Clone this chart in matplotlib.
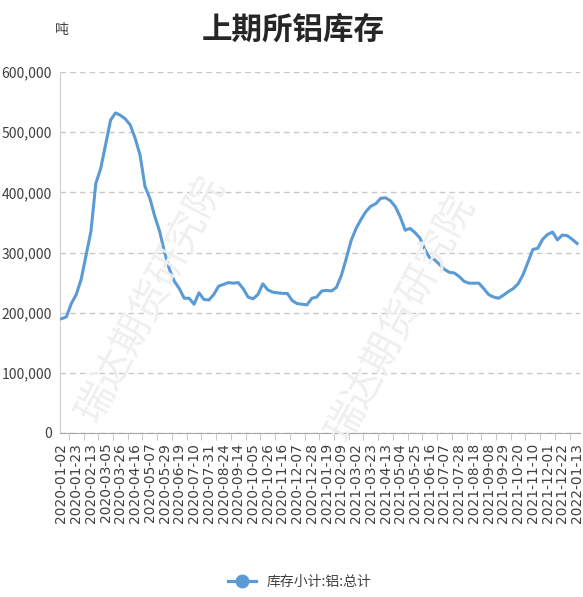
import numpy as np
import matplotlib.pyplot as plt
from matplotlib.lines import Line2D
from matplotlib.ticker import FuncFormatter, FixedLocator

plt.rcParams['font.family'] = ['Noto Sans CJK SC', 'DejaVu Sans']

# weekly SHFE aluminium stock (tonnes)
stock = [190, 193, 215, 230, 255, 295, 335, 415, 440, 480,
         520, 532, 528, 522, 512, 490, 462, 410, 390, 360,
         335, 300, 272, 252, 240, 224, 224, 214, 233, 222,
         221, 230, 244, 247, 250, 249, 250, 240, 226, 223,
         230, 248, 238, 234, 233, 232, 232, 220, 215, 214,
         213, 224, 226, 236, 237, 236, 242, 262, 290, 320,
         340, 355, 368, 377, 381, 390, 391, 386, 376, 359,
         337, 340, 333, 324, 305, 291, 288, 280, 272, 267,
         266, 260, 252, 249, 249, 249, 240, 230, 226, 224,
         229, 235, 240, 248, 263, 284, 305, 307, 322, 330,
         334, 321, 329, 328, 322, 315]
stock = np.array(stock) * 1000

date_labels = ['2020-01-02', '2020-01-23', '2020-02-13', '2020-03-05', '2020-03-26',
               '2020-04-16', '2020-05-07', '2020-05-29', '2020-06-19', '2020-07-10',
               '2020-07-31', '2020-08-24', '2020-09-14', '2020-10-05', '2020-10-26',
               '2020-11-16', '2020-12-07', '2020-12-28', '2021-01-19', '2021-02-09',
               '2021-03-02', '2021-03-23', '2021-04-13', '2021-05-04', '2021-05-25',
               '2021-06-16', '2021-07-07', '2021-07-28', '2021-08-18', '2021-09-08',
               '2021-09-29', '2021-10-20', '2021-11-10', '2021-12-01', '2021-12-22',
               '2022-01-13']

x = np.arange(len(stock))
label_pos = np.arange(0, len(stock), 3)
blue = '#5b9bd5'

fig = plt.figure(figsize=(5.83, 5.97), dpi=100)
ax = fig.add_axes([60/583, 1-433/597, 520/583, 361/597])

ax.plot(x, stock, color=blue, lw=2.2, zorder=3)

ax.set_ylim(0, 600000)
ax.set_xlim(-0.3, 105.6)
ax.set_yticks(np.arange(0, 600001, 100000))
ax.yaxis.set_major_formatter(FuncFormatter(lambda v, p: '{:,.0f}'.format(v)))
ax.tick_params(axis='y', length=0, labelsize=10, colors='#404040', pad=6)
ax.grid(axis='y', ls=(0, (4, 3)), color='#c8c8c8', lw=1)

ax.set_xticks(label_pos)
ax.set_xticklabels([date_labels[i // 3] for i in label_pos], rotation=90,
                   fontsize=10, color='#404040', family='DejaVu Sans')
ax.tick_params(axis='x', which='major', length=0, pad=7)
ax.xaxis.set_minor_locator(FixedLocator(label_pos + 1.5))
ax.tick_params(axis='x', which='minor', length=5, color='#bfbfbf')

for s in ['top', 'right']:
    ax.spines[s].set_visible(False)
ax.spines['left'].set_color('#d0d0d0')
ax.spines['bottom'].set_color('#a6a6a6')

# watermark
fig.text(150/583, 0.5, '瑞达期货研究院', fontsize=28,
         color='#efefef', rotation=62, ha='center', va='center', zorder=0)
fig.text(400/583, 1-318/597, '瑞达期货研究院', fontsize=28,
         color='#efefef', rotation=62, ha='center', va='center', zorder=0)

fig.text(293/583, 1-30/597, '上期所铝库存', fontsize=22, fontweight='bold',
         ha='center', va='center', color='#262626')
fig.text(62/583, 1-30/597, '吨', fontsize=10, ha='center', va='center', color='#404040')

handle = Line2D([], [], color=blue, lw=2.3, marker='o', markersize=9)
leg = fig.legend(handles=[handle], labels=['库存小计:铝:总计'], loc='center',
                 bbox_to_anchor=(300/583, 1-582/597), frameon=False, fontsize=10,
                 handlelength=2)
for t in leg.get_texts():
    t.set_color('#404040')

fig.savefig('out.png', dpi=100)
